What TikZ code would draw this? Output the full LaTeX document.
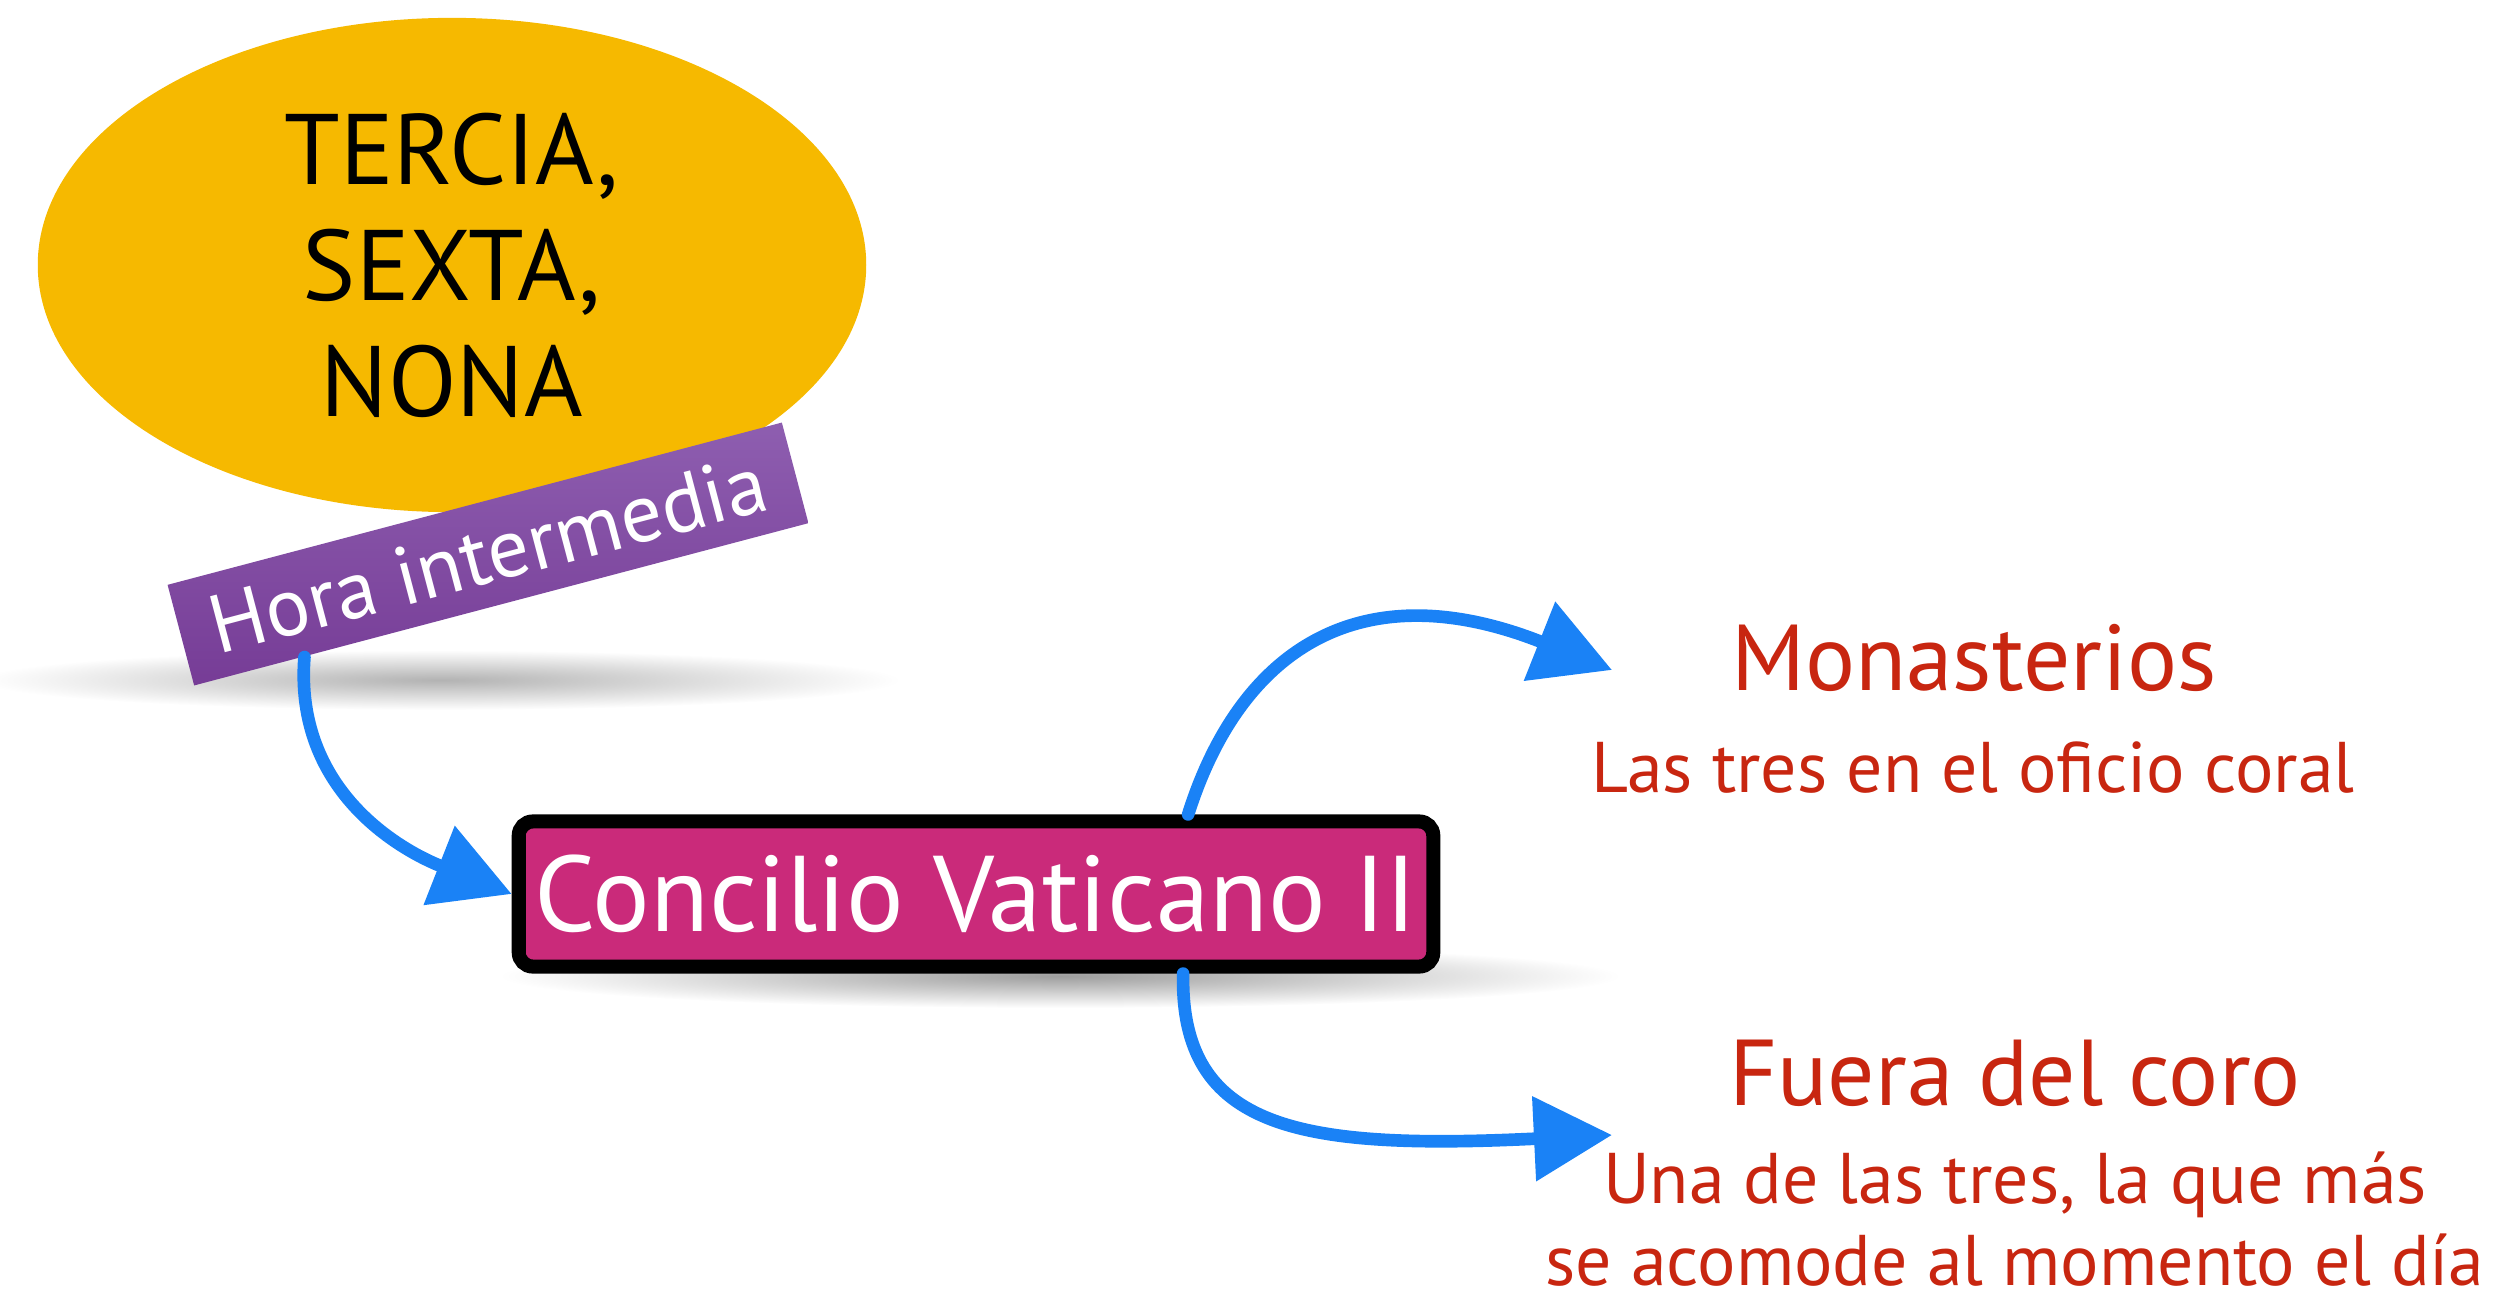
\documentclass[tikz,border=0pt]{standalone}
\usepackage{fontspec}
\setmainfont{PT Sans}
\usetikzlibrary{shapes, arrows.meta, positioning, calc}
\definecolor{ambar}{RGB}{246,185,0}
\definecolor{morado1}{RGB}{142,94,176}
\definecolor{morado2}{RGB}{118,60,150}
\definecolor{fucsia}{RGB}{202,42,122}
\definecolor{azul}{RGB}{26,130,246}
\definecolor{rojo}{RGB}{200,38,16}

\begin{document}
\begin{tikzpicture}[x=0.01cm, y=-0.01cm,
  brush/.style={draw=azul, line width=3.6pt, line cap=round, -{Triangle[length=7.8mm, width=8.2mm]}},
  titulo/.style={text=rojo, font=\fontsize{26.6}{30}\selectfont, anchor=base},
  nota/.style={text=rojo, font=\fontsize{20.4}{24}\selectfont, anchor=base}]
  \useasboundingbox (0,0) rectangle (2500,1300);
  \shade[inner color=black!30, outer color=white] (440,680) ellipse [x radius=4.6cm, y radius=0.3cm];
  \shade[inner color=black!38, outer color=white] (1060,976) ellipse [x radius=5.6cm, y radius=0.32cm];

  \node[ellipse, fill=ambar, minimum width=8.28cm, minimum height=4.94cm, inner sep=0, align=center, font=\fontsize{28.5}{33}\selectfont] (horas) at (452,265) {TERCIA,\\SEXTA,\\NONA};
  \node[rotate=14.8, minimum width=6.35cm, minimum height=1.04cm, inner sep=0, top color=morado1, bottom color=morado2, text=white, font=\fontsize{23.5}{26}\selectfont] (hora) at (488,554) {Hora intermedia};
  \node[draw=black, line width=4pt, fill=fucsia, rounded corners=4pt, minimum width=9.14cm, minimum height=1.45cm, inner sep=0, text=white, font=\fontsize{30.6}{34}\selectfont] (concilio) at (976,894) {Concilio Vaticano II};

  \node[titulo] (mon) at (1974,690) {Monasterios};
  \node[nota] (mon2) at (1973,792) {Las tres en el oficio coral};
  \node[titulo] (fue) at (2015,1105) {Fuera del coro};
  \node[nota] (fue2) at (2015,1203) {Una de las tres, la que más};
  \node[nota] (fue3) at (2015,1285) {se acomode al momento el día};
  \coordinate (pmon) at (1612,670);
  \coordinate (pfue) at (1612,1135);

  \draw[brush] ($(hora.south west)!0.18!(hora.south east)$) .. controls (294,790) and (400,850) .. (concilio.west);
  \draw[brush] ([xshift=2.12cm]concilio.north) .. controls (1240,650) and (1360,570) .. (pmon);
  \draw[brush] ([xshift=2.07cm]concilio.south) .. controls (1180,1130) and (1300,1150) .. (pfue);
\end{tikzpicture}
\end{document}
